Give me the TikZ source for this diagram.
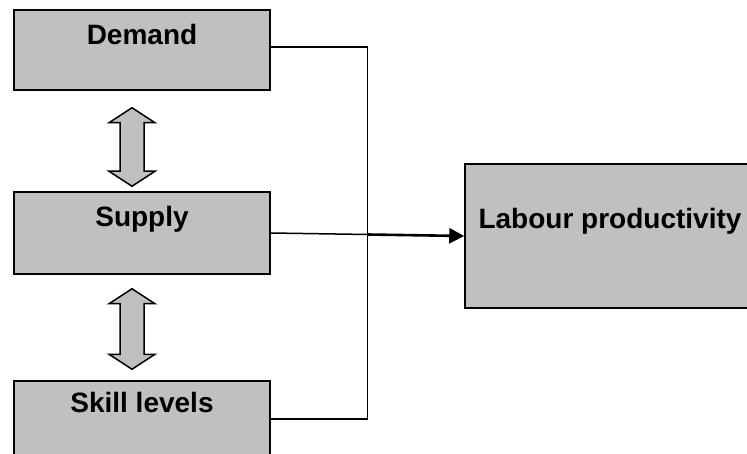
\documentclass[tikz,border=0pt]{standalone}
\usepackage{fontspec}
\setmainfont{Liberation Sans}
\usepackage{xcolor}
\usepackage{tikz}
\usetikzlibrary{positioning}
\usetikzlibrary{calc}
\usetikzlibrary{arrows.meta}

\definecolor{boxgray}{HTML}{C0C0C0}

\newcommand{\updown}[2]{%
  \draw [line width=1.5pt, fill=boxgray, line join=miter]
    (#1) -- ++(23,-15) -- ++(-11,0) -- ($(#2)+(12,15)$) -- ++(11,0) -- (#2)
    -- ++(-23,15) -- ++(11,0) -- ($(#1)+(-12,-15)$) -- ++(-11,0) -- cycle;}

\begin{document}
\begin{tikzpicture}[x=1pt,y=1pt,
  factor/.style={draw, line width=1.5pt, fill=boxgray, minimum width=256pt, inner sep=0pt},
  tag/.style={font=\bfseries\fontsize{28}{32}\selectfont, anchor=base}]

\useasboundingbox (0,0) rectangle (747,-454);

% Boxes on the left
\node [factor, minimum height=80pt, label={[tag, yshift=-35pt]north:Demand}] (demand) at (142,-50) {};
\node [factor, minimum height=82pt, label={[tag, yshift=-35pt]north:Supply}] (supply) at (142,-233) {};
\node [factor, minimum height=80pt, label={[tag, yshift=-32pt]north:Skill levels}] (skill) at (142,-421) {};

% Box on the right
\node [factor, minimum width=290pt, minimum height=144pt, label={[tag, yshift=-65pt]north:Labour productivity}] (labour) at (610,-236) {};

% Double arrows between the boxes
\coordinate (up1) at ($(demand.south)+(-10,-17)$);
\coordinate (dn1) at ($(supply.north)+(-10,5)$);
\coordinate (up2) at ($(supply.south)+(-10,-14)$);
\coordinate (dn2) at ($(skill.north)+(-10,11)$);
\updown{up1}{dn1}
\updown{up2}{dn2}

% Connectors
\coordinate (join) at ($(supply.east)!0.5!(labour.west)$);
\draw [line width=1.5pt] ([yshift=3pt]demand.east) -| ([yshift=2pt]skill.east -| join) -- ([yshift=2pt]skill.east);
\draw [line width=1.5pt] (supply.east) -- (join);
\draw [line width=2.6pt, -{Triangle[length=15pt, width=15pt]}] (join) -- (labour.west);

\end{tikzpicture}
\end{document}
